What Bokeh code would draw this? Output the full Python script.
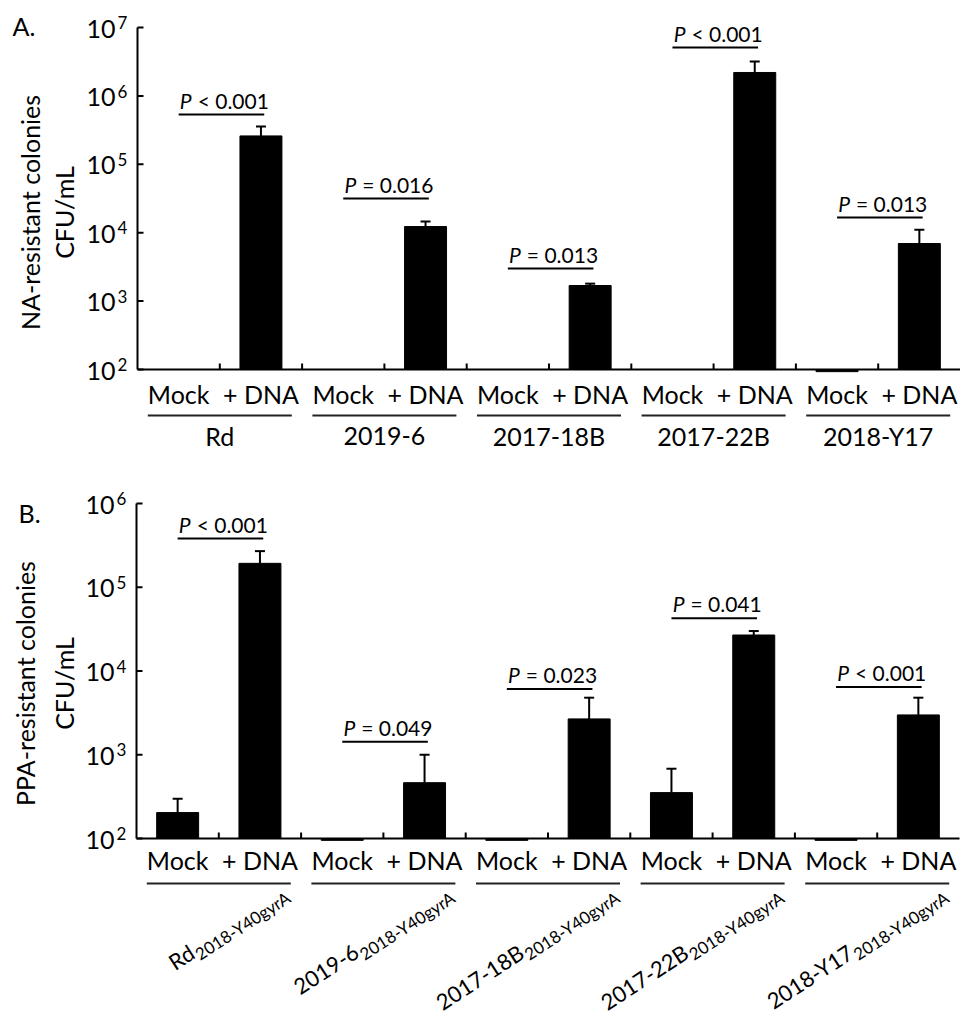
import math
from bokeh.plotting import figure
from bokeh.layouts import column
from bokeh.models import Range1d, ColumnDataSource, Whisker, TeeHead
from bokeh.core.properties import value
from bokeh.embed import file_html
from bokeh.resources import INLINE

# ---------------- data ----------------
strains = ["Rd", "2019-6", "2017-18B", "2017-22B", "2018-Y17"]
conditions = ["Mock", "+ DNA"]
subscript_B = "2018-Y40gyrA"

# Panel A: NA-resistant colonies (CFU/mL)
mock_A = [100, 100, 100, 100, 93]
mock_sd_A = [0, 0, 0, 0, 0]
dna_A = [2.6e5, 1.23e4, 1.69e3, 2.2e6, 6.95e3]
dna_sd_A = [0.97e5, 0.23e4, 0.11e3, 0.98e6, 0.41e4]
p_text_A = ["< 0.001", "= 0.016", "= 0.013", "< 0.001", "= 0.013"]
p_line_A = [5.35e5, 3.16e4, 3.0e3, 5.1e6, 1.67e4]
exps_A = [2, 3, 4, 5, 6, 7]

# Panel B: PPA-resistant colonies (CFU/mL)
mock_B = [204, 95, 95, 353, 95]
mock_sd_B = [95, 0, 0, 328, 0]
dna_B = [1.93e5, 464, 2.68e3, 2.69e4, 2.99e3]
dna_sd_B = [0.77e5, 536, 2.12e3, 0.31e4, 1.81e3]
p_text_B = ["< 0.001", "= 0.049", "= 0.023", "= 0.041", "< 0.001"]
p_line_B = [3.83e5, 1.43e3, 6.1e3, 4.27e4, 6.46e3]
exps_B = [2, 3, 4, 5, 6]

# ---------------- layout constants ----------------
FONT = value("Lato")
W = 960
SLOT = 82.3
BAR_W = 0.51
K_SHIFT = 0.4  # baseline correction (fraction of font size)


def panel(cfg, letter, ylabel, mock, mock_sd, dna, dna_sd, p_text, p_line, exps, rotated):
    H = cfg["H"]
    ax = cfg["axis_x"]
    t_px = cfg["top_px"]
    b_px = cfg["base_px"]
    lo, hi = exps[0], exps[-1]
    dec = (b_px - t_px) / (hi - lo)

    def X(px):
        return (px - ax) / SLOT

    def Y(py):
        return 10 ** (hi - (py - t_px) / dec)

    def dY(val, dpx):  # move a data value by dpx screen pixels (down positive)
        return val / 10 ** (dpx / dec)

    p = figure(width=W, height=H, x_range=Range1d(X(0), X(W)),
               y_range=Range1d(Y(H), Y(0)), y_axis_type="log",
               x_axis_location=None, y_axis_location=None,
               toolbar_location=None, output_backend="svg",
               min_border=0, outline_line_color=None)
    p.grid.visible = False

    def put(xs, ys, texts, fs, align, angle=0.0, italic=False):
        s = K_SHIFT * fs
        xs2 = [x - s * math.sin(angle) / SLOT for x in xs]
        ys2 = [y * 10 ** (s * math.cos(angle) / dec) for y in ys]
        p.text(x=xs2, y=ys2, text=texts, angle=angle, text_align=align,
               text_baseline="alphabetic", text_font=FONT,
               text_font_style="italic" if italic else "normal",
               text_font_size=f"{fs}px", text_color="black")

    base = 10 ** lo
    n = len(strains)
    xs_mock = [2 * g + 0.5 for g in range(n)]
    xs_dna = [2 * g + 1.5 for g in range(n)]

    # bars
    p.vbar(x=xs_mock + xs_dna, top=mock + dna, bottom=base, width=BAR_W,
           fill_color="black", line_color="black", line_width=1)

    # error bars (upper only)
    ex, lw, up = [], [], []
    for xx, v, s in zip(xs_mock + xs_dna, mock + dna, mock_sd + dna_sd):
        if s > 0:
            ex.append(xx); lw.append(v); up.append(v + s)
    src = ColumnDataSource(dict(x=ex, lower=lw, upper=up))
    p.add_layout(Whisker(base="x", lower="lower", upper="upper", source=src,
                         line_width=2, line_color="black",
                         upper_head=TeeHead(size=10, line_width=2, line_color="black"),
                         lower_head=None))

    # axis lines
    p.segment(x0=[0, 0], y0=[base, base], x1=[0, 2 * n], y1=[10 ** hi, base],
              line_color="black", line_width=2)
    # y ticks (inside)
    p.segment(x0=[0] * len(exps), x1=[X(ax + 6)] * len(exps),
              y0=[10 ** e for e in exps], y1=[10 ** e for e in exps],
              line_color="black", line_width=2)
    # x ticks at slot boundaries (inside)
    bx = list(range(1, 2 * n))
    p.segment(x0=bx, x1=bx, y0=[base] * len(bx), y1=[dY(base, -6)] * len(bx),
              line_color="black", line_width=2)

    # y tick labels 10^e
    put([X(ax - 22)] * len(exps), [dY(10 ** e, 11) for e in exps],
        ["10"] * len(exps), 25, "right")
    put([X(ax - 20)] * len(exps), [dY(10 ** e, 2) for e in exps],
        [str(e) for e in exps], 17, "left")

    # y axis title (two lines)
    put([X(cfg["yl1_x"]), X(cfg["yl2_x"])], [Y(cfg["yl_cy"])] * 2,
        [ylabel, "CFU/mL"], 25, "center", angle=math.pi / 2)

    # panel letter
    put([X(cfg["letter_x"])], [Y(cfg["letter_base"])], [letter], 25, "left")

    # condition labels
    put(xs_mock + xs_dna, [Y(cfg["cond_base"])] * (2 * n),
        [conditions[0]] * n + [conditions[1]] * n, 25, "center")

    # group underlines
    half = 72 / SLOT
    p.segment(x0=[2 * g + 1 - half for g in range(n)], x1=[2 * g + 1 + half for g in range(n)],
              y0=[Y(cfg["under_px"])] * n, y1=[Y(cfg["under_px"])] * n,
              line_color="#222222", line_width=2)

    # strain labels
    if not rotated:
        put([2 * g + 1 for g in range(n)], [Y(cfg["strain_base"])] * n, strains, 25, "center")
    else:
        ang = math.radians(33)
        jx = [2 * g + 1 - 22 / SLOT for g in range(n)]
        put(jx, [Y(cfg["junction_px"])] * n, strains, 22, "right", angle=ang)
        off = 5
        sx = [x + (off * math.sin(ang) + 1 * math.cos(ang)) / SLOT for x in jx]
        sy = Y(cfg["junction_px"] + off * math.cos(ang) - 1 * math.sin(ang))
        put(sx, [sy] * n, [subscript_B] * n, 17, "left", angle=ang)

    # significance lines and P values
    lx0 = xs_mock
    lx1 = [x + 0.04 for x in xs_dna]
    p.segment(x0=lx0, x1=lx1, y0=p_line, y1=p_line, line_color="black", line_width=2)
    ty = [dY(v, -6) for v in p_line]
    put([x + 13 / SLOT for x in lx0], ty, ["P"] * n, 21, "right", italic=True)
    put([x + 19 / SLOT for x in lx0], ty, p_text, 21, "left")
    return p


cfg_A = dict(H=476, axis_x=137, top_px=27, base_px=369, yl1_x=39, yl2_x=73, yl_cy=212,
             letter_x=12, letter_base=35, cond_base=403, under_px=415, strain_base=445)
cfg_B = dict(H=542, axis_x=136, top_px=27, base_px=362, yl1_x=34, yl2_x=73, yl_cy=207,
             letter_x=18, letter_base=46, cond_base=393, under_px=407, junction_px=481)

pA = panel(cfg_A, "A.", "NA-resistant colonies", mock_A, mock_sd_A, dna_A, dna_sd_A,
           p_text_A, p_line_A, exps_A, rotated=False)
pB = panel(cfg_B, "B.", "PPA-resistant colonies", mock_B, mock_sd_B, dna_B, dna_sd_B,
           p_text_B, p_line_B, exps_B, rotated=True)

layout = column(pA, pB, spacing=0)
open("out.html", "w").write(file_html(layout, INLINE))
